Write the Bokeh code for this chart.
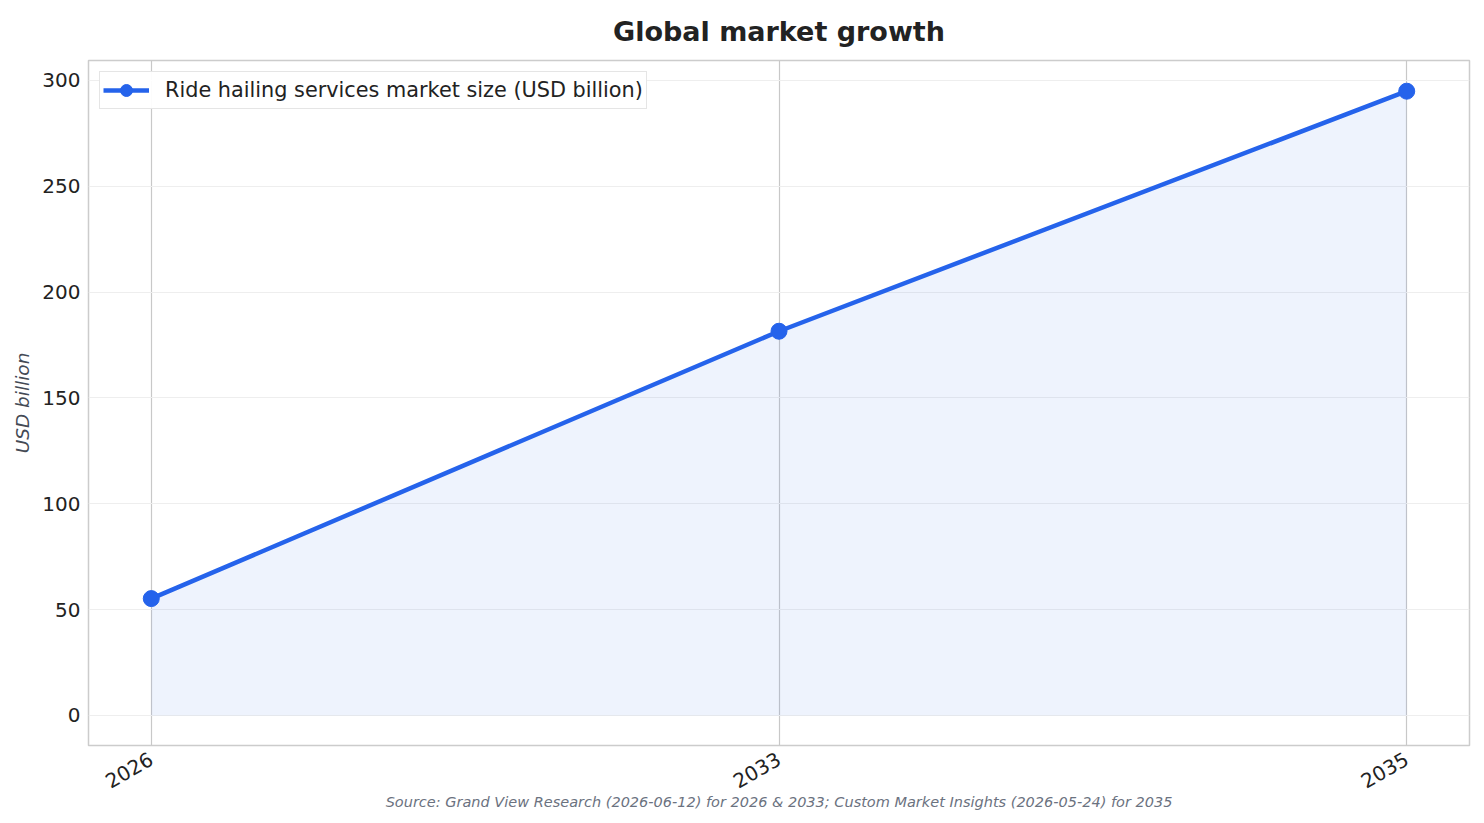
import math
from bokeh.plotting import figure
from bokeh.models import ColumnDataSource, FixedTicker, Title, Legend, LegendItem
from bokeh.embed import file_html
from bokeh.resources import INLINE

years = ["2026", "2033", "2035"]
market_size = [55.2, 181.5, 294.9]

FONT = "DejaVu Sans"
BLUE = "#2563eb"

src = ColumnDataSource(data=dict(x=list(range(len(years))), y=market_size,
                                 base=[0] * len(years)))

p = figure(frame_width=1381, frame_height=685,
           x_range=(-0.1, 2.1), y_range=(-14.2, 309.4),
           output_backend="svg", toolbar_location=None,
           min_border_left=88, min_border_right=6,
           min_border_top=60, min_border_bottom=68)

p.title.text = "Global market growth"
p.title.align = "center"
p.title.text_font = FONT
p.title.text_font_size = "27px"
p.title.text_font_style = "bold"
p.title.text_color = "#222222"
p.title.standoff = 27

p.outline_line_color = "#cccccc"
p.outline_line_width = 1.5

p.varea(x="x", y1="base", y2="y", source=src, fill_color=BLUE, fill_alpha=0.08)
ln = p.line("x", "y", source=src, line_color=BLUE, line_width=4.5)
pts = p.scatter("x", "y", source=src, size=16, fill_color=BLUE, line_color=BLUE)

p.xaxis.ticker = FixedTicker(ticks=list(range(len(years))))
p.xaxis.major_label_overrides = {i: y for i, y in enumerate(years)}
p.xaxis.major_label_orientation = math.pi / 6
p.yaxis.ticker = FixedTicker(ticks=[0, 50, 100, 150, 200, 250, 300])

for ax in (p.xaxis, p.yaxis):
    ax.axis_line_color = None
    ax.major_tick_line_color = None
    ax.minor_tick_line_color = None
    ax.major_label_text_font = FONT
    ax.major_label_text_font_size = "20px"
    ax.major_label_text_color = "#222222"
p.xaxis.major_label_standoff = 6
p.yaxis.major_label_standoff = 2

p.yaxis.axis_label = "USD billion"
p.yaxis.axis_label_text_font = FONT
p.yaxis.axis_label_text_font_size = "18.5px"
p.yaxis.axis_label_text_font_style = "italic"
p.yaxis.axis_label_text_color = "#444a55"
p.yaxis.axis_label_standoff = 6

p.xgrid.grid_line_color = "#c8c8c8"
p.xgrid.grid_line_width = 1.2
p.ygrid.grid_line_color = "#eeeeee"
p.ygrid.grid_line_width = 1.2

legend = Legend(items=[LegendItem(label="Ride hailing services market size (USD billion)",
                                  renderers=[ln, pts])],
                location="top_left")
legend.label_text_font = FONT
legend.label_text_font_size = "20.8px"
legend.label_text_color = "#222222"
legend.border_line_color = "#cccccc"
legend.border_line_width = 1.5
legend.margin = 11
legend.padding = 3
legend.glyph_width = 46
legend.glyph_height = 30
legend.label_standoff = 16
p.add_layout(legend)

src_note = Title(text="Source: Grand View Research (2026-06-12) for 2026 & 2033; "
                      "Custom Market Insights (2026-05-24) for 2035",
                 align="center", text_font=FONT, text_font_size="14.5px",
                 text_font_style="italic", text_color="#6b7280", standoff=-14)
p.add_layout(src_note, "below")

open("out.html", "w").write(file_html(p, INLINE))
